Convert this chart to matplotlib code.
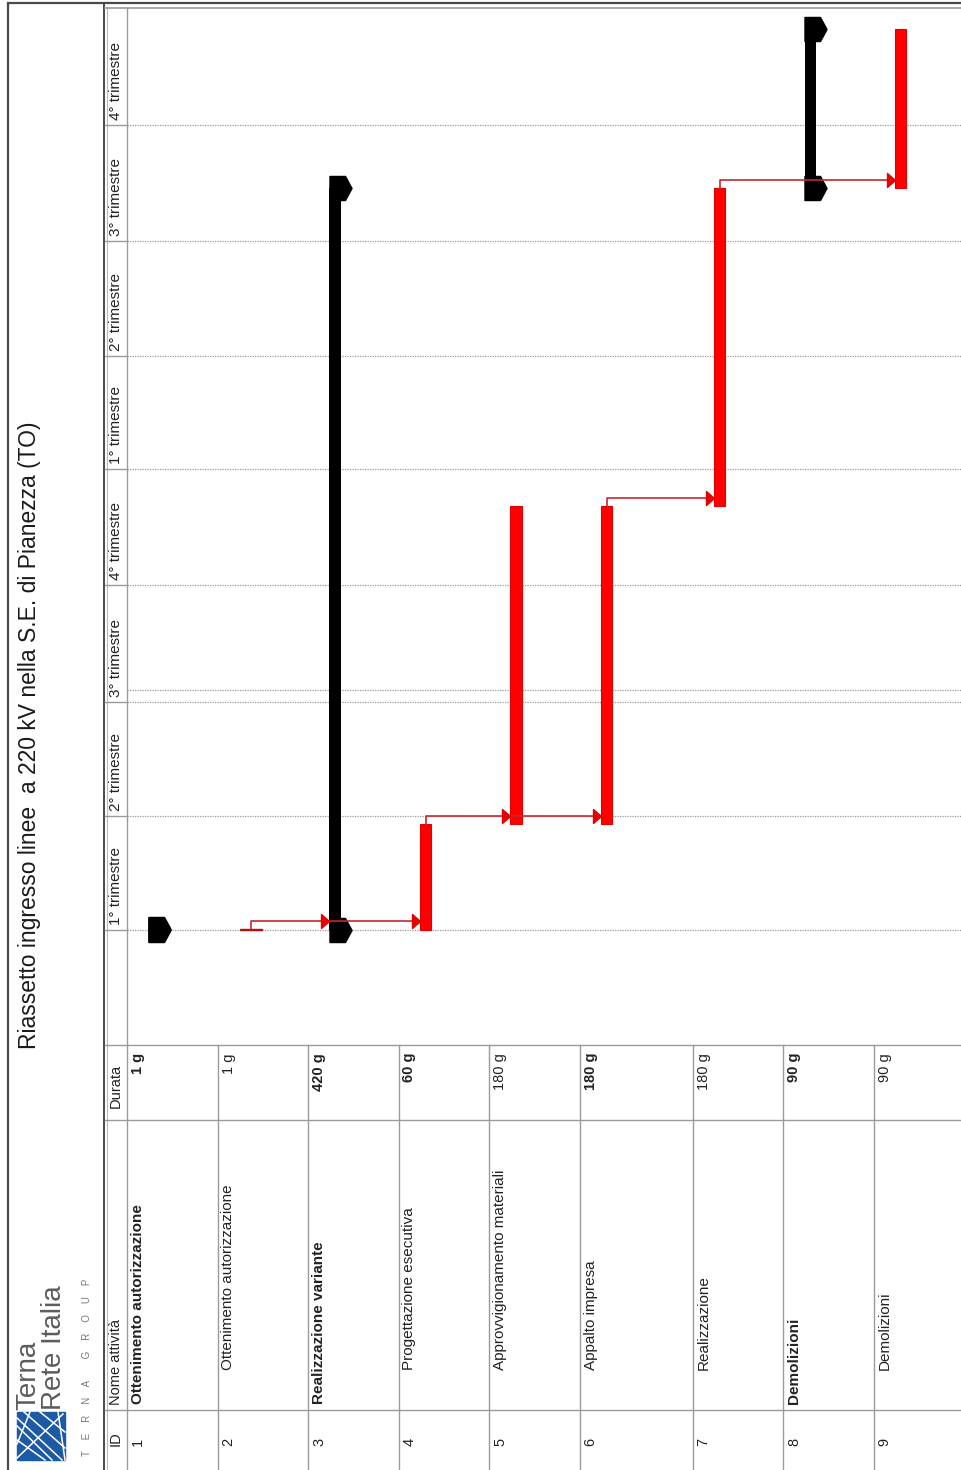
import matplotlib
matplotlib.use("Agg")
import matplotlib.pyplot as plt
import numpy as np
from matplotlib import transforms
from matplotlib.path import Path
from matplotlib.patches import Rectangle

plt.rcParams['font.family'] = ['Liberation Sans', 'DejaVu Sans']

# --- activity table (MS Project style export) ---
task_ids = [1, 2, 3, 4, 5, 6, 7, 8, 9]
task_names = [
    "Ottenimento autorizzazione",
    "Ottenimento autorizzazione",
    "Realizzazione variante",
    "Progettazione esecutiva",
    "Approvvigionamento materiali",
    "Appalto impresa",
    "Realizzazione",
    "Demolizioni",
    "Demolizioni",
]
durations = [1, 1, 420, 60, 180, 180, 180, 90, 90]      # working days ("g")
start_days = [0, 0, 0, 0, 84, 84, 336, 588, 588]        # calendar days from project start
is_summary = [True, False, True, False, False, False, False, True, False]
duration_bold = [True, False, True, True, False, True, False, True, False]
links = [(2, 3), (2, 4), (4, 5), (4, 6), (6, 7), (7, 9)]

quarter_days = [0, 90, 181, 273, 365, 455, 546, 638]
quarter_labels = ["1° trimestre", "2° trimestre", "3° trimestre", "4° trimestre"] * 2
status_day = 190

title = "Riassetto ingresso linee  a 220 kV nella S.E. di Pianezza (TO)"

# --- page layout (pixels, page rotated by 90 degrees) ---
W, H = 961, 1470
GANTT_LEFT, GANTT_TOP, GANTT_BOTTOM = 127, 8, 1045
DAY0_PX, PX_PER_DAY = 930, 1.262
ROW_PX = 90.5
row_span = [1, 1, 1, 1, 1, 1.25, 1, 1, 1]
BAR_OFF, BAR_W = 0.30, 0.125

GRID = '#9a9a9a'
FRAME = '#4a4a4a'


def calendar_span(work_days):
    weeks, rest = divmod(work_days, 5)
    return weeks * 7 + rest


fig = plt.figure(figsize=(W / 100, H / 100), dpi=100)
page = fig.add_axes([0, 0, 1, 1])
page.set_xlim(0, W)
page.set_ylim(H, 0)
page.axis('off')

ax = fig.add_axes([GANTT_LEFT / W, 1 - GANTT_BOTTOM / H,
                   1 - GANTT_LEFT / W, (GANTT_BOTTOM - GANTT_TOP) / H])
ax.set_xlim(0, (W - GANTT_LEFT) / ROW_PX)
ax.set_ylim(-(GANTT_BOTTOM - DAY0_PX) / PX_PER_DAY, (DAY0_PX - GANTT_TOP) / PX_PER_DAY)
ax.axis('off')
ax.patch.set_alpha(0)

# x in page pixels, y in project days
hdr = transforms.blended_transform_factory(page.transData, ax.transData)

edges = np.concatenate([[0], np.cumsum(row_span)])
row_px = GANTT_LEFT + edges * ROW_PX

# --- frame and table grid ---
page.plot([8, 8], [3, H], color=FRAME, lw=1.6)
page.plot([8, W], [3, 3], color=FRAME, lw=1.6)
page.plot([104, 104], [3, H], color=FRAME, lw=1.4)
page.plot([106.5, 106.5], [8, H], color='#bbbbbb', lw=0.8)
page.plot([GANTT_LEFT, GANTT_LEFT], [GANTT_TOP, H], color=GRID, lw=1.0)
page.plot([105, W], [GANTT_TOP, GANTT_TOP], color=GRID, lw=1.2)
for yy in (GANTT_BOTTOM, 1120, 1410):
    page.plot([105, W], [yy, yy], color=GRID, lw=1.0)
for xx in row_px[1:9]:
    page.plot([xx, xx], [GANTT_BOTTOM, H], color=GRID, lw=1.0)

# column headers
hkw = dict(rotation=90, rotation_mode='anchor', va='center', color='#222222')
page.text(116, 1446, "ID", ha='left', fontsize=10.5, **hkw)
page.text(116, 1405, "Nome attività", ha='left', fontsize=10.5, **hkw)
page.text(116, 1108, "Durata", ha='left', fontsize=10.5, **hkw)

# table rows
for i, tid in enumerate(task_ids):
    tx = row_px[i] + 11
    page.text(tx, 1446, str(tid), ha='left', fontsize=10.5, **hkw)
    page.text(tx, 1404 if is_summary[i] else 1370, task_names[i], ha='left', fontsize=11,
              fontweight='bold' if is_summary[i] else 'normal', **hkw)
    page.text(tx, 1053, f"{durations[i]} g", ha='right', fontsize=10.5,
              fontweight='bold' if duration_bold[i] else 'normal', **hkw)

# --- timescale header ---
for d, lab in zip(quarter_days, quarter_labels):
    page.plot([105, GANTT_LEFT], [d, d], color=GRID, lw=1.0, transform=hdr, clip_on=False)
    page.text(116.5, d + 4, lab, ha='left', transform=hdr, clip_on=False,
              fontsize=11, **hkw)

# --- gantt grid ---
for d in quarter_days + [status_day]:
    ax.axhline(d, color=GRID, lw=0.9, ls=(0, (1, 1)), zorder=1)

# summary end cap: flat side on the bar, point towards the next row
cap = Path([(-5.5, -12), (10, -12), (16.5, 0), (10, 12), (-5.5, 12), (-5.5, -12)],
           [Path.MOVETO] + [Path.LINETO] * 4 + [Path.CLOSEPOLY])
arrow = Path([(0, 0), (-8, -7), (-8, 7), (0, 0)],
             [Path.MOVETO, Path.LINETO, Path.LINETO, Path.CLOSEPOLY])

spans = [calendar_span(d) for d in durations]
finish = [s + n for s, n in zip(start_days, spans)]
bar_x = edges[:-1] + BAR_OFF

for i in range(len(task_ids)):
    if is_summary[i]:
        ax.bar(bar_x[i], spans[i], bottom=start_days[i], width=BAR_W,
               color='black', zorder=3)
        ax.plot([bar_x[i]] * 2, [start_days[i], finish[i]], ls='none', marker=cap,
                ms=23.8, color='black', zorder=3)
    elif spans[i] < 2:
        # one-day activity: drawn as a short flat dash
        ax.bar(bar_x[i] + 0.07, spans[i], bottom=start_days[i], width=BAR_W * 2,
               color='#ff0000', edgecolor='#b01010', lw=1.0, zorder=3)
    else:
        ax.bar(bar_x[i], spans[i], bottom=start_days[i], width=BAR_W,
               color='#ff0000', edgecolor='#e00000', lw=0.8, zorder=3)

# finish-to-start links
LINK_OFF = 6
preds = sorted({p for p, _ in links})
for p in preds:
    succs = [s for q, s in links if q == p]
    pi = p - 1
    y = finish[pi] + LINK_OFF
    riser_x = bar_x[pi] + (0.07 if spans[pi] < 2 else 0)
    tips = [bar_x[s - 1] - BAR_W / 2 for s in succs]
    ax.plot([riser_x, riser_x, max(tips)], [finish[pi], y, y],
            color='#c8262c', lw=1.2, zorder=4)
    ax.plot(tips, [y] * len(tips), ls='none', marker=arrow, ms=11.5,
            color='#e60000', zorder=4)

# --- title panel ---
page.text(30, 735, title, rotation=90, ha='center', va='center', fontsize=16.5, color='#1a1a1a')

# logo
page.add_patch(Rectangle((17, 1412), 48, 48, color='#1d5aa6', zorder=2))
for (x0, y0, x1, y1) in [(17, 1458, 63, 1414), (17, 1440, 45, 1460), (24, 1412, 65, 1448),
                         (17, 1426, 52, 1460), (40, 1412, 65, 1432), (30, 1412, 17, 1444),
                         (58, 1412, 65, 1460), (17, 1418, 62, 1460)]:
    page.plot([x0, x1], [y0, y1], color='white', lw=1.1, zorder=3)
page.text(28, 1410, "Terna", rotation=90, rotation_mode='anchor', ha='left', va='center',
          fontsize=20, color='#5c5c5c')
page.text(54, 1410, "Rete Italia", rotation=90, rotation_mode='anchor', ha='left', va='center',
          fontsize=20, color='#5c5c5c')
page.text(87, 1456, "T    E    R    N    A        G    R    O    U    P", rotation=90,
          rotation_mode='anchor', ha='left', va='center', fontsize=7, color='#777777')

fig.savefig("out.png", dpi=100)
